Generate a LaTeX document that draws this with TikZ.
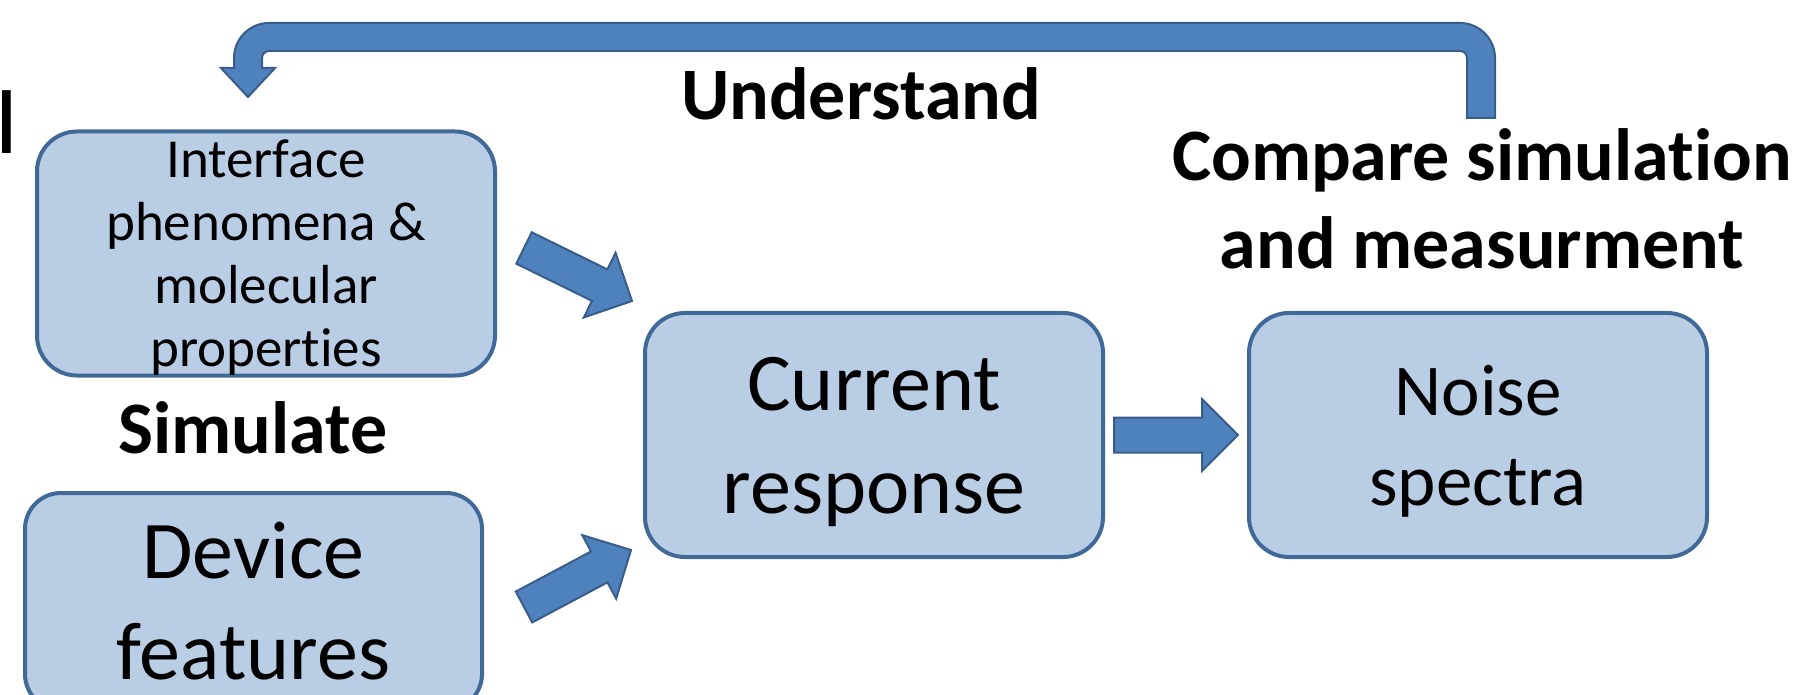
\documentclass[tikz,border=0pt]{standalone}
\usepackage{fontspec}
\setmainfont{Carlito}[Ligatures=NoCommon]
\usetikzlibrary{calc}
\definecolor{boxfill}{RGB}{185,205,229}
\definecolor{boxline}{RGB}{65,105,152}
\definecolor{arrfill}{RGB}{79,129,189}
\definecolor{arrline}{RGB}{56,93,138}
\newcommand{\nd}[1]{\raisebox{0pt}[\height][0pt]{#1}}
\newcommand{\blockarr}[2]{%
  \path ($(#2)!18pt!(#1)$) coordinate (hb);
  \filldraw[blk] ($(#1)!8.75pt!90:(#2)$) -- ($(hb)!8.75pt!90:(#2)$) -- ($(hb)!18pt!90:(#2)$)
    -- (#2) -- ($(hb)!18pt!-90:(#2)$) -- ($(hb)!8.75pt!-90:(#2)$) -- ($(#1)!8.75pt!-90:(#2)$) -- cycle;}
\begin{document}
\begin{tikzpicture}[x=0.5pt,y=-0.5pt,
  box/.style={draw=boxline, line width=2pt, fill=boxfill, rounded corners=20pt,
    inner sep=0pt, align=center, minimum width=229pt, minimum height=122pt},
  lbl/.style={font=\fontsize{37}{44}\selectfont\bfseries, inner sep=0pt, align=center},
  blk/.style={fill=arrfill, draw=arrline, line width=1pt, line join=miter}]
\useasboundingbox (0,0) rectangle (1794,695);

% boxes
\node[box, font=\fontsize{27.5}{31.5}\selectfont] (iface) at (266,253.5)
  {Interface\\phenomena \&\\molecular\\\nd{propert\kern0pt ies}};
\node[box, minimum width=228.5pt, minimum height=108.5pt, rounded corners=18pt,
  font=\fontsize{41}{50.5}\selectfont] (device) at (253.5,601.5) {Device\\features};
\node[box, font=\fontsize{41}{51.5}\selectfont] (current) at (874,435) {Current\\\nd{response}};
\node[box, font=\fontsize{36.5}{45}\selectfont] (noise) at (1478,435) {Noise\\\nd{spectra}};

% labels
\node[lbl, anchor=base] (und) at (861,120) {Understand};
\node[lbl, anchor=base] (sim) at (253,453) {Simulate};
\node[lbl] (cmp) at (1482,198.5) {Compare simulat\kern0pt ion\\and measurment};
\node[inner sep=0pt, anchor=base, font=\fontsize{49}{49}\selectfont] (stray) at (7,154) {I};

% block arrows between boxes
\coordinate (a1s) at ($(iface.east)+(27,-5.5)$);
\coordinate (a1e) at ($(current.north west)+(-11,-10)$);
\coordinate (a2s) at ($(device.north east)+(40,116)$);
\coordinate (a2e) at ($(current.south west)+(-12,-9)$);
\coordinate (a3s) at ($(current.east)+(9,0)$);
\coordinate (a3e) at ($(noise.west)+(-9,0)$);
\blockarr{a1s}{a1e}
\blockarr{a2s}{a2e}
\blockarr{a3s}{a3e}

% bent feedback arrow
\filldraw[blk] (1495,118) -- (1495,58) .. controls (1495,38.7) and (1479.3,23) .. (1460,23)
  -- (269,23) .. controls (249.7,23) and (234,38.7) .. (234,58)
  -- (234,68) -- (221,68) -- (248,97) -- (275,68) -- (262,68)
  -- (262,58) .. controls (262,54.1) and (265.1,51) .. (269,51)
  -- (1460,51) .. controls (1463.9,51) and (1467,54.1) .. (1467,58)
  -- (1467,118) -- cycle;
\end{tikzpicture}
\end{document}
